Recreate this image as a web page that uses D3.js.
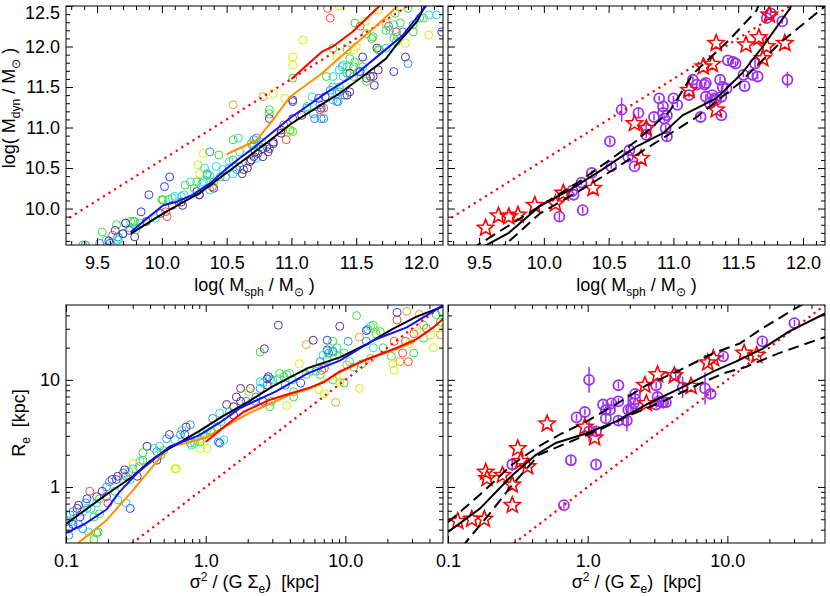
<!DOCTYPE html>
<html>
<head>
<meta charset="utf-8">
<title>Mdyn vs Msph, Re vs sigma^2/(G Sigma)</title>
<style>
  body { margin: 0; background: #fff; }
  svg { font-family: "Liberation Sans", Arial, Helvetica, sans-serif; font-size: 18px; }
</style>
</head>
<body>
<svg width="830" height="596"></svg>
<script src="https://d3js.org/d3.v7.min.js"></script>
<script>

// ---------- data ----------
// colour codes of the rainbow-coded sample
const rainbow = {P:"#5b2c8f", B:"#2b3dff", L:"#2e90ff", C:"#22dcdc", G:"#3ade3a", Y:"#d4f000", O:"#ff9a1e", R:"#ff4a2a"};

// top-left: [log Msph, log Mdyn, colour]
const tlPts = [
[11.28,12.47,"R"],[11.30,12.35,"R"],[11.37,12.50,"Y"],[11.67,12.45,"Y"],[11.84,12.49,"Y"],[12.06,12.39,"C"],[12.12,12.39,"C"],[12.16,12.18,"B"],[12.06,12.14,"Y"],[11.90,12.47,"G"],[12.02,12.35,"G"],[11.49,12.29,"G"],[11.53,12.25,"R"],[11.57,12.31,"Y"],[11.58,12.16,"G"],[11.63,12.12,"G"],[11.73,12.29,"O"],[11.75,12.25,"R"],[11.79,12.27,"C"],[11.81,12.18,"R"],[11.73,12.20,"G"],[11.80,12.41,"G"],[11.84,12.29,"G"],[11.86,12.18,"L"],[11.94,12.27,"G"],[11.81,12.06,"G"],[11.88,12.04,"Y"],[11.94,12.18,"G"],
[11.09,12.08,"Y"],[11.01,11.87,"Y"],[11.01,11.77,"Y"],[11.01,11.61,"G"],[10.95,11.36,"Y"],[10.86,11.42,"Y"],[10.78,11.38,"O"],
[11.32,11.98,"G"],[11.35,11.87,"Y"],[11.40,11.77,"C"],[11.43,11.96,"G"],[11.45,11.85,"G"],[11.48,11.96,"Y"],[11.49,11.81,"C"],[11.53,11.77,"Y"],[11.32,11.63,"C"],[11.37,11.71,"C"],[11.43,11.67,"G"],[11.52,11.69,"G"],[11.55,11.75,"C"],[11.55,11.87,"P"],[11.48,11.75,"G"],[11.66,11.98,"P"],[11.68,11.96,"G"],[11.73,11.98,"C"],[11.67,11.71,"P"],[11.79,11.69,"B"],[11.64,11.52,"P"],[11.58,11.61,"P"],[11.53,11.69,"B"],[11.88,11.87,"P"],[11.90,11.79,"L"],[11.63,11.63,"P"],[11.45,11.44,"P"],[11.37,11.44,"L"],[11.41,11.40,"L"],[11.32,11.50,"G"],[11.30,11.46,"L"],[11.26,11.38,"P"],[11.32,11.34,"C"],[11.36,11.32,"L"],[11.16,11.38,"C"],[11.01,11.34,"P"],[11.12,11.24,"G"],[11.17,11.17,"L"],[11.22,11.22,"R"],[11.23,11.24,"B"],[11.25,11.11,"L"],[11.18,11.11,"L"],
[11.01,10.95,"G"],[10.99,10.95,"Y"],[10.96,10.85,"R"],[10.92,10.93,"P"],[10.83,11.22,"G"],[10.83,11.17,"G"],[10.83,11.11,"P"],[10.86,10.80,"P"],[10.81,10.76,"B"],[10.82,10.70,"P"],[10.76,10.76,"C"],[10.71,10.85,"L"],[10.71,10.64,"P"],[10.68,10.58,"P"],[10.73,10.62,"C"],[10.69,10.80,"G"],[10.59,10.87,"C"],[10.55,10.85,"G"],[10.55,11.28,"O"],[10.66,10.74,"Y"],[10.60,10.70,"C"],[10.55,10.60,"G"],[10.52,10.50,"C"],[10.58,10.48,"L"],[10.60,10.52,"L"],[10.63,10.48,"P"],
[10.37,10.70,"L"],[10.44,10.66,"G"],[10.32,10.68,"Y"],[10.28,10.54,"Y"],[10.33,10.50,"C"],[10.35,10.43,"L"],[10.37,10.41,"C"],[10.29,10.43,"Y"],[10.22,10.33,"C"],[10.27,10.33,"G"],[10.32,10.33,"C"],[10.40,10.33,"G"],[10.45,10.39,"G"],[10.40,10.25,"P"],[10.37,10.23,"C"],[10.29,10.17,"P"],[10.27,10.21,"B"],[10.18,10.29,"G"],[10.17,10.17,"C"],[10.15,10.08,"P"],[10.10,10.15,"C"],[10.06,10.39,"B"],[10.02,10.27,"B"],[10.00,10.11,"G"],[10.05,10.11,"G"],[10.08,10.04,"P"],[10.04,9.90,"R"],[9.99,9.94,"P"],[9.95,9.88,"C"],[9.90,10.17,"B"],[9.84,9.96,"B"],[9.83,9.82,"C"],[9.88,9.84,"P"],[9.78,9.84,"G"],[9.72,9.82,"C"],[9.65,9.80,"G"],[9.75,9.73,"P"],[9.79,9.65,"P"],[9.70,9.69,"C"],[9.66,9.65,"L"],[9.62,9.67,"R"],[9.57,9.61,"C"],[9.54,9.71,"G"],[9.64,9.73,"P"],[9.66,9.61,"C"],[9.52,9.57,"L"],[9.39,9.55,"G"],[9.60,9.57,"B"],
[9.76,9.84,"G"],[9.79,9.84,"G"],[9.72,9.82,"P"],[9.75,9.76,"C"],[9.80,9.74,"C"],[9.67,9.63,"C"],[9.59,9.60,"P"],[9.70,9.69,"P"],[9.41,9.55,"L"],[10.03,9.96,"R"],[10.01,10.11,"G"],[10.08,10.13,"C"],[10.16,10.04,"P"],[10.15,10.15,"C"],[10.25,10.25,"G"],[10.29,10.17,"P"],[10.31,10.31,"C"],[10.39,10.27,"R"],[10.35,10.41,"G"],[10.42,10.52,"C"],[10.47,10.48,"C"],[10.49,10.39,"L"],[10.55,10.43,"C"],[10.52,10.58,"C"],[10.62,10.43,"P"],[10.66,10.50,"P"],[10.69,10.60,"P"],[10.74,10.68,"P"],[10.78,10.64,"P"],[10.70,10.78,"G"],
[11.01,11.32,"B"],[11.62,12.10,"G"],[11.67,11.96,"G"],[11.50,12.00,"Y"],[11.76,12.20,"C"],[11.82,12.12,"G"],[11.79,12.10,"G"],[11.99,12.35,"G"],[11.61,11.63,"P"],[11.58,11.57,"G"],[11.39,11.75,"C"],[11.43,11.75,"G"],[11.45,11.67,"P"],[11.48,11.63,"G"],[11.40,11.63,"C"],[11.27,11.63,"G"],[11.37,11.50,"G"],[11.35,11.42,"C"],[11.43,11.40,"P"],[11.35,11.32,"L"],[11.22,11.28,"L"],[11.21,11.36,"B"],[11.25,11.24,"R"],[11.23,11.11,"L"],[11.12,11.26,"C"],[11.08,11.15,"P"],[11.01,11.11,"P"],[10.94,11.03,"R"],[10.99,10.97,"G"],[10.92,10.97,"P"],[10.86,10.82,"P"],[10.83,10.74,"P"],[10.73,10.87,"L"],[10.72,10.70,"P"],[10.71,10.78,"C"],[10.77,10.82,"C"],[10.78,10.74,"P"]
];

// top-left running relations [log Msph, log Mdyn]
const tlBlack  = [[9.76,9.69],[10.03,9.96],[10.29,10.19],[10.49,10.43],[10.70,10.68],[10.80,10.80],[11.0,11.05],[11.25,11.30],[11.37,11.42],[11.55,11.63],[11.73,11.85],[11.81,12.02],[11.97,12.31],[12.03,12.5]];
const tlBlue   = [[9.76,9.71],[9.88,9.87],[10.01,10.04],[10.11,10.08],[10.24,10.17],[10.37,10.31],[10.49,10.48],[10.60,10.62],[10.70,10.74],[10.80,10.87],[11.0,11.13],[11.28,11.44],[11.5,11.66],[11.71,11.94],[11.86,12.14],[12.04,12.5]];
const tlOrange = [[10.5,10.67],[10.73,10.84],[10.86,11.1],[10.99,11.38],[11.23,11.66],[11.47,12.0],[11.63,12.22],[11.82,12.5]];
const tlRed    = [[11.0,11.6],[11.24,11.94],[11.32,12.0],[11.47,12.18],[11.68,12.5]];
const massOneToOne = [[9.2,9.8],[12.2,12.8]];   // dotted reference

// top-right: stars [log Msph, log Mdyn]
const trStars = [[9.55,9.76],[9.65,9.91],[9.73,9.90],[9.80,9.92],[9.93,10.04],[10.09,10.06],[10.15,10.19],[10.38,10.25],[10.70,11.05],[10.79,10.99],[10.75,10.62],[11.12,11.46],[11.23,11.75],[11.30,11.78],[11.33,12.04],[11.33,11.22],[11.56,12.02],[11.66,12.11],[11.69,11.85],[11.72,12.0],[11.86,12.04],[11.74,12.39]];
// top-right: circles [log Msph, log Mdyn, error]
const trCircles = [[10.12,9.90,0.05],[10.22,10.22,0.03],[10.23,10.17,0.03],[10.29,10.32,0.03],[10.30,9.98,0.04],[10.37,10.44,0.03],[10.51,10.83,0.04],[10.52,10.52,0.03],[10.60,11.22,0.15],[10.65,10.64,0.05],[10.66,10.72,0.04],[10.70,10.52,0.03],[10.73,11.18,0.06],[10.79,10.99,0.08],[10.79,10.91,0.04],[10.85,11.13,0.04],[10.89,11.36,0.03],[10.92,11.26,0.04],[10.92,11.18,0.03],[10.93,11.11,0.04],[10.95,11.15,0.03],[10.94,10.99,0.04],[10.95,10.89,0.07],[11.00,11.36,0.03],[11.03,11.28,0.03],[11.15,11.59,0.04],[11.12,11.40,0.03],[11.18,11.53,0.03],[11.21,11.13,0.03],[11.24,11.53,0.03],[11.25,11.55,0.03],[11.28,11.30,0.03],[11.30,11.40,0.03],[11.32,11.36,0.03],[11.36,11.59,0.04],[11.37,11.15,0.03],[11.38,11.50,0.03],[11.41,11.48,0.03],[11.37,11.38,0.03],[11.42,11.83,0.03],[11.46,11.81,0.03],[11.48,11.79,0.03],[11.54,11.65,0.03],[11.55,11.51,0.03],[11.61,11.65,0.03],[11.63,11.79,0.05],[11.65,11.63,0.03],[11.72,12.35,0.03],[11.75,12.41,0.03],[11.84,12.31,0.03],[11.88,11.59,0.10],[11.25,11.38,0.03],[11.33,11.34,0.03]];
const trBlack   = [[9.50,9.50],[9.73,9.70],[9.97,10.03],[10.2,10.23],[10.45,10.48],[10.71,10.76],[10.92,10.93],[11.07,11.15],[11.33,11.36],[11.53,11.67],[11.69,12.0],[11.9,12.47],[11.93,12.6]];
const trUpper   = [[9.44,9.50],[9.76,9.82],[10.27,10.33],[10.71,10.83],[10.97,11.20],[11.15,11.66],[11.43,12.08],[11.64,12.44],[11.68,12.6]];
const trLower   = [[9.62,9.50],[9.70,9.55],[9.97,9.94],[10.35,10.29],[10.81,10.76],[11.18,11.13],[11.51,11.55],[11.82,12.04],[12.15,12.47],[12.2,12.55]];

// bottom-left: [log10 sigma^2/(G Sigma_e), log10 Re, colour]
const blPts = [
[1.08,1.60,"G"],[1.37,1.63,"B"],[1.44,1.64,"O"],[1.37,1.56,"R"],[1.10,1.40,"O"],[1.15,1.36,"L"],[1.16,1.47,"L"],[1.18,1.50,"C"],[1.20,1.51,"G"],[1.21,1.48,"Y"],[1.22,1.43,"G"],[1.25,1.45,"G"],[1.27,1.30,"G"],[1.20,1.30,"C"],[1.18,1.20,"O"],[1.12,1.15,"G"],[1.33,1.22,"G"],[1.34,1.15,"Y"],[1.35,1.09,"Y"],[1.39,1.17,"O"],[1.41,1.25,"R"],[1.35,1.36,"R"],[1.43,1.36,"R"],[1.49,1.43,"R"],[1.51,1.45,"Y"],[1.46,1.34,"Y"],[1.49,1.25,"G"],[1.45,1.17,"R"],[1.56,1.39,"G"],[1.61,1.42,"Y"],[1.63,1.30,"Y"],[1.68,1.42,"O"],[1.65,1.61,"G"],[1.68,1.54,"G"],[1.66,1.48,"Y"],[1.58,1.48,"R"],[1.53,1.61,"O"],[1.69,1.64,"G"],[1.56,1.51,"G"],[1.15,1.46,"B"],
[0.91,1.36,"G"],[0.91,1.26,"G"],[0.88,1.25,"L"],[0.84,1.23,"C"],[0.94,1.30,"C"],[0.96,1.22,"G"],[0.99,1.25,"G"],[1.01,1.14,"O"],[1.03,1.17,"C"],[1.06,1.12,"G"],[1.02,1.36,"L"],[0.87,1.37,"B"],[0.96,1.50,"P"],[0.87,1.19,"G"],[0.83,1.09,"R"],[0.85,1.11,"R"],[0.94,1.03,"Y"],[0.91,1.00,"G"],[0.96,0.98,"Y"],[0.93,0.79,"O"],[0.72,1.33,"O"],[0.77,1.37,"P"],[0.87,1.28,"P"],[0.82,1.17,"L"],[0.79,1.08,"C"],[0.67,1.15,"Y"],[0.75,1.08,"G"],[0.72,1.05,"G"],[0.82,1.05,"G"],[0.85,0.87,"Y"],[0.81,0.91,"Y"],[1.10,0.92,"Y"],[0.99,0.97,"G"],[0.87,1.27,"C"],[0.91,1.27,"L"],
[0.56,1.03,"C"],[0.62,1.00,"G"],[0.63,0.89,"G"],[0.63,0.84,"G"],[0.58,0.76,"Y"],[0.57,0.95,"L"],[0.68,0.97,"B"],[0.58,1.05,"G"],[0.60,1.06,"G"],[0.53,1.06,"G"],[0.52,1.01,"G"],[0.48,1.00,"C"],[0.46,1.01,"C"],[0.41,0.97,"C"],[0.44,1.01,"B"],[0.44,0.95,"P"],[0.45,1.03,"P"],[0.39,0.92,"L"],[0.32,0.92,"P"],[0.39,0.98,"C"],[0.31,0.89,"Y"],[0.36,0.84,"L"],[0.47,0.80,"G"],[0.46,0.75,"G"],[0.41,0.80,"P"],[0.35,0.80,"L"],[0.25,0.92,"P"],[0.29,0.80,"L"],[0.25,0.80,"P"],[0.20,0.75,"P"],[0.15,0.77,"P"],[0.17,0.70,"C"],[0.20,0.67,"P"],[0.10,0.69,"C"],[0.11,0.61,"C"],[0.05,0.64,"L"],[0.08,0.56,"G"],[0.04,0.52,"G"],[0.01,0.53,"C"],[-0.02,0.50,"G"],[0.01,0.49,"Y"],[-0.03,0.45,"Y"],[-0.06,0.47,"C"],[-0.08,0.41,"C"],[-0.11,0.58,"L"],[-0.14,0.56,"P"],[-0.17,0.53,"C"],[-0.18,0.49,"L"],[-0.15,0.49,"B"],[-0.04,0.36,"Y"],[0.01,0.36,"Y"],[-0.04,0.42,"G"],[-0.10,0.39,"C"],[0.10,0.41,"B"],[0.13,0.44,"C"],[0.09,0.42,"L"],[0.22,0.84,"P"],[0.52,1.51,"P"],[0.42,1.29,"P"],[0.39,1.26,"G"],
[-0.22,0.44,"C"],[-0.28,0.45,"L"],[-0.26,0.49,"P"],[-0.33,0.38,"C"],[-0.37,0.36,"C"],[-0.35,0.33,"L"],[-0.32,0.30,"G"],[-0.30,0.34,"G"],[-0.22,0.17,"Y"],[-0.11,0.41,"G"],[-0.35,0.25,"B"],[-0.42,0.38,"P"],[-0.45,0.32,"G"],[-0.45,0.25,"G"],[-0.47,0.24,"C"],[-0.52,0.22,"Y"],[-0.48,0.19,"O"],[-0.49,0.10,"P"],[-0.52,0.17,"C"],[-0.55,0.14,"C"],[-0.54,0.07,"C"],[-0.57,0.10,"R"],[-0.59,0.13,"L"],[-0.63,0.10,"P"],[-0.64,0.07,"B"],[-0.58,0.16,"P"],[-0.67,0.07,"P"],[-0.58,0.05,"C"],[-0.65,-0.04,"G"],[-0.71,0.00,"L"],[-0.69,0.05,"L"],[-0.54,-0.20,"B"],[-0.57,-0.15,"C"],[-0.63,-0.12,"C"],[-0.71,-0.09,"B"],[-0.76,-0.11,"G"],[-0.70,-0.15,"R"],[-0.74,-0.04,"P"],[-0.78,-0.09,"P"],[-0.83,-0.04,"R"],[-0.78,-0.15,"C"],[-0.82,-0.20,"C"],[-0.76,-0.25,"G"],[-0.80,-0.28,"G"],[-0.85,-0.11,"B"],[-0.86,-0.15,"L"],[-0.85,-0.20,"C"],[-0.88,-0.23,"C"],[-0.91,-0.17,"P"],[-0.92,-0.20,"P"],[-0.95,-0.23,"L"],[-0.97,-0.26,"L"],[-0.98,-0.31,"C"],[-0.96,-0.32,"C"],[-0.90,-0.28,"B"],[-0.91,-0.35,"L"],[-0.88,-0.39,"L"],[-0.84,-0.42,"C"],[-0.78,-0.43,"G"],[-0.77,-0.42,"G"],[-0.80,-0.49,"G"],[-0.84,-0.49,"Y"],[-0.98,-0.39,"B"],[-0.98,-0.45,"L"],[-0.95,-0.35,"B"],[-0.21,0.17,"Y"]
];
// bottom-left running relations [log10 x, log10 Re]
const blBlack  = [[-1.0,-0.345],[-0.71,-0.07],[-0.52,0.10],[-0.40,0.24],[-0.28,0.345],[-0.05,0.52],[0.12,0.66],[0.31,0.80],[0.48,0.94],[0.73,1.11],[0.96,1.21],[1.15,1.33],[1.33,1.47],[1.51,1.59],[1.70,1.685]];
const blBlue   = [[-1.0,-0.43],[-0.86,-0.34],[-0.71,-0.21],[-0.62,-0.05],[-0.49,0.13],[-0.36,0.27],[-0.26,0.376],[-0.05,0.48],[0.10,0.60],[0.25,0.74],[0.50,0.89],[0.73,1.06],[0.96,1.18],[1.20,1.37],[1.44,1.49],[1.63,1.64],[1.70,1.70]];
const blOrange = [[-0.92,-0.53],[-0.71,-0.31],[-0.52,-0.03],[-0.40,0.16],[-0.26,0.376],[-0.14,0.41],[0.0,0.46],[0.12,0.55],[0.31,0.69],[0.45,0.77],[0.60,0.86],[0.75,0.92],[0.96,1.07],[1.15,1.19],[1.37,1.29],[1.50,1.36]];
const blRed    = [[0.0,0.42],[0.15,0.58],[0.27,0.70],[0.45,0.81],[0.60,0.87],[0.75,0.93],[0.85,0.98],[0.96,1.08],[1.15,1.19],[1.37,1.30],[1.51,1.38],[1.63,1.49],[1.70,1.57]];
const sizeOneToOne = [[-1.0,-1.0],[1.7,1.7]];   // dotted Re = sigma^2/(G Sigma_e)

// bottom-right
const brStars = [[-0.93,-0.32],[-0.83,-0.30],[-0.74,-0.30],[-0.73,0.14],[-0.72,0.08],[-0.61,0.11],[-0.54,0.02],[-0.50,0.36],[-0.48,0.24],[-0.43,0.19],[-0.54,-0.17],[-0.29,0.59],[-0.02,0.56],[0.05,0.46],[0.41,0.95],[0.50,1.05],[0.62,1.04],[0.74,0.94],[0.42,0.78],[0.86,1.16],[0.90,1.20],[1.12,1.25],[1.21,1.23]];
const brCircles = [[-0.54,0.21,0.06],[-0.17,-0.17,0.03],[-0.12,0.25,0.04],[-0.08,0.65,0.03],[-0.02,0.70,0.03],[0.01,1.00,0.12],[0.01,0.52,0.10],[0.06,0.52,0.04],[0.06,0.21,0.03],[0.11,0.77,0.03],[0.13,0.72,0.03],[0.13,0.64,0.04],[0.16,0.72,0.03],[0.17,0.78,0.03],[0.22,0.80,0.03],[0.22,0.95,0.03],[0.22,0.62,0.04],[0.28,0.62,0.10],[0.29,0.72,0.15],[0.31,0.73,0.04],[0.33,0.78,0.03],[0.34,0.87,0.03],[0.34,0.82,0.03],[0.49,0.95,0.03],[0.50,0.84,0.05],[0.49,0.77,0.03],[0.51,0.80,0.04],[0.54,0.79,0.06],[0.56,0.79,0.03],[0.63,1.05,0.04],[0.68,0.93,0.10],[0.84,0.92,0.15],[0.88,0.87,0.05],[0.97,1.22,0.03],[1.25,1.36,0.03],[1.48,1.53,0.03]];
const brBlack = [[-1.0,-0.42],[-0.77,-0.20],[-0.54,0.11],[-0.37,0.30],[-0.23,0.41],[-0.01,0.50],[0.20,0.61],[0.42,0.77],[0.66,0.92],[0.90,1.08],[1.06,1.17],[1.25,1.29],[1.44,1.45],[1.70,1.62]];
const brUpper = [[-1.0,-0.33],[-0.77,-0.07],[-0.54,0.21],[-0.35,0.38],[-0.20,0.49],[-0.01,0.61],[0.20,0.77],[0.42,0.95],[0.66,1.09],[0.90,1.25],[1.09,1.34],[1.25,1.48],[1.49,1.67],[1.56,1.72]];
const brLower = [[-0.90,-0.56],[-0.69,-0.23],[-0.54,0.02],[-0.35,0.30],[-0.13,0.42],[0.11,0.55],[0.30,0.67],[0.54,0.80],[0.78,0.95],[0.97,1.06],[1.13,1.12],[1.37,1.25],[1.70,1.40]];

// axis ticks (kept inside each axis range)
const massMajorX = [9.5, 10, 10.5, 11, 11.5, 12];
const massMajorY = [10, 10.5, 11, 11.5, 12, 12.5];
const massMinorX = d3.range(93, 122).filter(v => v % 5 !== 0).map(v => v / 10);
const massMinorY = d3.range(96, 125).filter(v => v % 5 !== 0).map(v => v / 10);
const logMajorX = [0.1, 1, 10];
const logMajorY = [1, 10];
const logMinorX = [0.2,0.3,0.4,0.5,0.6,0.7,0.8,0.9,2,3,4,5,6,7,8,9,20,30,40];
const logMinorY = [0.4,0.5,0.6,0.7,0.8,0.9,2,3,4,5,6,7,8,9,20,30,40];

// ---------- layout ----------
const svg = d3.select("svg");
const W = 377, HT = 239, HB = 238;
const X0 = [66, 448], Y0 = [6, 305];

const xm = d3.scaleLinear().domain([9.26, 12.17]).range([0, W]);
const ym = d3.scaleLinear().domain([9.55, 12.5]).range([HT, 0]);
const xs = d3.scaleLog().domain([0.1, 50]).range([0, W]);
const yr = d3.scaleLog().domain([0.3, 50]).range([HB, 0]);

const purple = "#9b30f0";

function starPath(R, r) {
  const p = [];
  for (let i = 0; i < 10; i++) {
    const a = -Math.PI / 2 + i * Math.PI / 5, rad = i % 2 ? r : R;
    p.push([rad * Math.cos(a), rad * Math.sin(a)]);
  }
  return "M" + p.map(q => q[0].toFixed(2) + "," + q[1].toFixed(2)).join("L") + "Z";
}
const star = starPath(8.5, 3.7);

function panel(id, x0, y0, h) {
  const g = svg.append("g").attr("transform", `translate(${x0},${y0})`);
  svg.append("clipPath").attr("id", id).append("rect").attr("width", W).attr("height", h);
  const data = g.append("g").attr("clip-path", `url(#${id})`);
  return {g, data};
}

function axes(g, x, y, h, xMaj, xMin, yMaj, yMin, xFmt, yFmt) {
  const add = (ax, t) => {
    const a = g.append("g").attr("transform", t || null).call(ax);
    a.attr("font-size", null).attr("font-family", null);
    a.select(".domain").remove();
    return a;
  };
  const bx = add(d3.axisBottom(x).tickValues(xMaj).tickSize(-7).tickPadding(11).tickFormat(xFmt), `translate(0,${h})`);
  add(d3.axisBottom(x).tickValues(xMin).tickSize(-4).tickFormat(""), `translate(0,${h})`);
  add(d3.axisTop(x).tickValues(xMaj).tickSize(-7).tickFormat(""));
  add(d3.axisTop(x).tickValues(xMin).tickSize(-4).tickFormat(""));
  const ly = add(d3.axisLeft(y).tickValues(yMaj).tickSize(-7).tickPadding(6).tickFormat(yFmt || ""));
  add(d3.axisLeft(y).tickValues(yMin).tickSize(-4).tickFormat(""));
  add(d3.axisRight(y).tickValues(yMaj).tickSize(-7).tickFormat(""), `translate(${W},0)`);
  add(d3.axisRight(y).tickValues(yMin).tickSize(-4).tickFormat(""), `translate(${W},0)`);
  g.append("rect").attr("width", W).attr("height", h)
    .attr("fill", "none").attr("stroke", "#000").attr("stroke-width", 1);
  return {bx, ly};
}

function label(parent, x, y, parts, rot) {
  const t = parent.append("text")
    .attr("transform", `translate(${x},${y})` + (rot ? " rotate(-90)" : ""))
    .attr("text-anchor", "middle").attr("xml:space", "preserve");
  let shift = 0;
  parts.forEach(([s, kind]) => {
    const want = kind === "sub" ? 5 : kind === "sup" ? -7 : 0;
    t.append("tspan").attr("dy", want - shift)
      .attr("font-size", kind ? 12 : 18).text(s);
    shift = want;
  });
  return t;
}

const massLine = d3.line().x(d => xm(d[0])).y(d => ym(d[1]));
const sizeLine = d3.line().x(d => xs(10 ** d[0])).y(d => yr(10 ** d[1]));

function draw(layer, gen, data, color, dash, width) {
  layer.append("path").datum(data).attr("d", gen)
    .attr("fill", "none").attr("stroke", color).attr("stroke-width", width || 2)
    .attr("stroke-dasharray", dash || null).attr("stroke-linejoin", "round");
}

const fmt1 = d3.format(".1f");

// ---------- top-left ----------
{
  const {g, data} = panel("c1", X0[0], Y0[0], HT);
  data.selectAll("circle").data(tlPts).join("circle")
    .attr("cx", d => xm(d[0])).attr("cy", d => ym(d[1])).attr("r", 4)
    .attr("fill", "none").attr("stroke", d => rainbow[d[2]]).attr("stroke-width", 1);
  draw(data, massLine, massOneToOne, "#ff0000", "2.2,4.4", 2.2);
  draw(data, massLine, tlRed, "#ff0000");
  draw(data, massLine, tlOrange, "#ff9000");
  draw(data, massLine, tlBlack, "#000");
  draw(data, massLine, tlBlue, "#1010ff");
  const {ly} = axes(g, xm, ym, HT, massMajorX, massMinorX, massMajorY, massMinorY, fmt1, fmt1);
  ly.selectAll(".tick text").filter(d => d === 12.5).attr("dy", "0.71em");
}

// ---------- top-right ----------
{
  const {g, data} = panel("c2", X0[1], Y0[0], HT);
  const c = data.selectAll("g.pt").data(trCircles).join("g").attr("class", "pt");
  c.append("line").attr("x1", d => xm(d[0])).attr("x2", d => xm(d[0]))
    .attr("y1", d => ym(d[1] - d[2])).attr("y2", d => ym(d[1] + d[2]))
    .attr("stroke", purple).attr("stroke-width", 1.5);
  c.append("circle").attr("cx", d => xm(d[0])).attr("cy", d => ym(d[1])).attr("r", 5)
    .attr("fill", "none").attr("stroke", purple).attr("stroke-width", 1.8);
  data.selectAll("path.star").data(trStars).join("path").attr("class", "star")
    .attr("d", star).attr("transform", d => `translate(${xm(d[0])},${ym(d[1])})`)
    .attr("fill", "none").attr("stroke", "#ff0000").attr("stroke-width", 1.6);
  draw(data, massLine, massOneToOne, "#ff0000", "2.2,4.4", 2.2);
  draw(data, massLine, trUpper, "#000", "11,6");
  draw(data, massLine, trLower, "#000", "11,6");
  draw(data, massLine, trBlack, "#000");
  axes(g, xm, ym, HT, massMajorX, massMinorX, massMajorY, massMinorY, fmt1, null);
}

// ---------- bottom-left ----------
{
  const {g, data} = panel("c3", X0[0], Y0[1], HB);
  data.selectAll("circle").data(blPts).join("circle")
    .attr("cx", d => xs(10 ** d[0])).attr("cy", d => yr(10 ** d[1])).attr("r", 4)
    .attr("fill", "none").attr("stroke", d => rainbow[d[2]]).attr("stroke-width", 1);
  draw(data, sizeLine, sizeOneToOne, "#ff0000", "2.2,4.2", 2.2);
  draw(data, sizeLine, blOrange, "#ff9000");
  draw(data, sizeLine, blRed, "#ff0000");
  draw(data, sizeLine, blBlack, "#000");
  draw(data, sizeLine, blBlue, "#1010ff");
  axes(g, xs, yr, HB, logMajorX, logMinorX, logMajorY, logMinorY, fmt1, d3.format("d"));
}

// ---------- bottom-right ----------
{
  const {g, data} = panel("c4", X0[1], Y0[1], HB);
  const c = data.selectAll("g.pt").data(brCircles).join("g").attr("class", "pt");
  c.append("line").attr("x1", d => xs(10 ** d[0])).attr("x2", d => xs(10 ** d[0]))
    .attr("y1", d => yr(10 ** (d[1] - d[2]))).attr("y2", d => yr(10 ** (d[1] + d[2])))
    .attr("stroke", purple).attr("stroke-width", 1.5);
  c.append("circle").attr("cx", d => xs(10 ** d[0])).attr("cy", d => yr(10 ** d[1])).attr("r", 5)
    .attr("fill", "none").attr("stroke", purple).attr("stroke-width", 1.8);
  data.selectAll("path.star").data(brStars).join("path").attr("class", "star")
    .attr("d", star).attr("transform", d => `translate(${xs(10 ** d[0])},${yr(10 ** d[1])})`)
    .attr("fill", "none").attr("stroke", "#ff0000").attr("stroke-width", 1.6);
  draw(data, sizeLine, sizeOneToOne, "#ff0000", "2.2,4.2", 2.2);
  draw(data, sizeLine, brUpper, "#000", "11,6");
  draw(data, sizeLine, brLower, "#000", "11,6");
  draw(data, sizeLine, brBlack, "#000");
  axes(g, xs, yr, HB, logMajorX, logMinorX, logMajorY, logMinorY, fmt1, null);
}

// ---------- axis titles ----------
const massTitle = [["log( M"], ["sph", "sub"], [" / M"], ["\u2299", "sub"], [" )"]];
const sizeTitle = [["\u03c3"], ["2", "sup"], [" / (G \u03a3"], ["e", "sub"], [")  [kpc]"]];
label(svg, X0[0] + W / 2, 291, massTitle);
label(svg, X0[1] + W / 2, 291, massTitle);
label(svg, X0[0] + W / 2, 588, sizeTitle);
label(svg, X0[1] + W / 2, 588, sizeTitle);
label(svg, 15, 108, [["log( M"], ["dyn", "sub"], [" / M"], ["\u2299", "sub"], [" )"]], true);
label(svg, 25, 423, [["R"], ["e", "sub"], ["  [kpc]"]], true);

</script>
</body>
</html>
